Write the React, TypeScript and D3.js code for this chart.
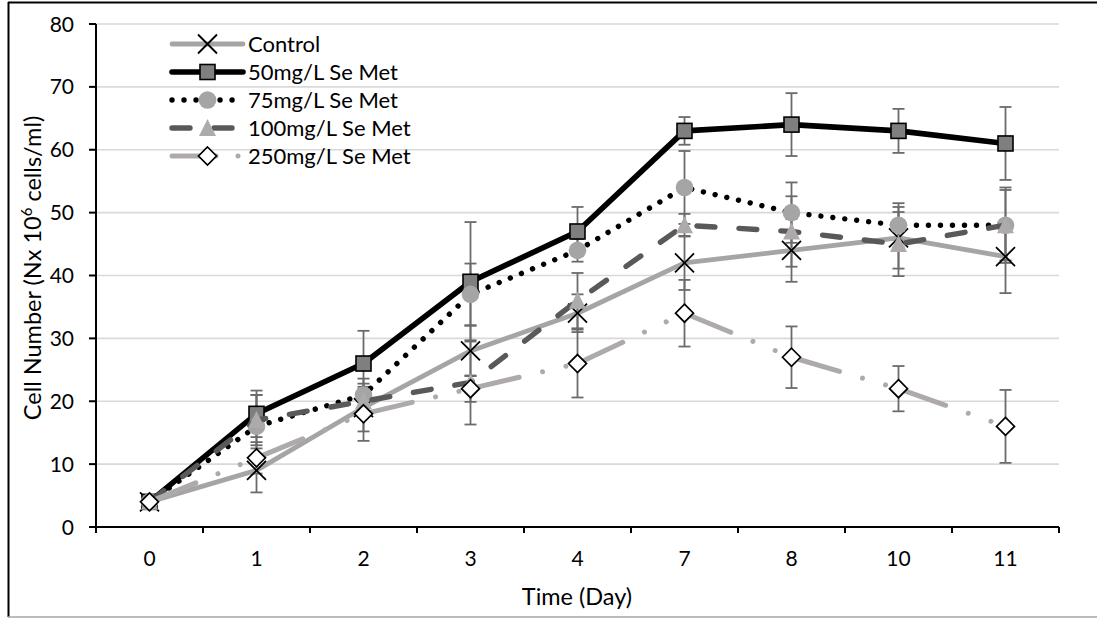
import React from "react";
import * as d3 from "d3";

const days = ["0", "1", "2", "3", "4", "7", "8", "10", "11"];
const yTicks = [0, 10, 20, 30, 40, 50, 60, 70, 80];

const seriesNames = ["Control", "50mg/L Se Met", "75mg/L Se Met", "100mg/L Se Met", "250mg/L Se Met"];

const controlVals = [4, 9, 19, 28, 34, 42, 44, 46, 43];
const controlErr = [0.5, 3.5, 3.8, 4, 3, 4.3, 5, 4.9, 5.8];
const se50Vals = [4, 18, 26, 39, 47, 63, 64, 63, 61];
const se50Err = [0.5, 3.7, 5.2, 9.5, 3.9, 2.2, 5, 3.5, 5.8];
const se75Vals = [4, 16, 21, 37, 44, 54, 50, 48, 48];
const se75Err = [0.5, 5, 2.6, 4.9, 1.8, 5.8, 4.8, 3.5, 6];
const se100Vals = [4, 17, 20, 23, 36, 48, 47, 45, 48];
const se100Err = [0.5, 4, 2, 6.7, 4.4, 1.8, 5.6, 5.1, 5.6];
const se250Vals = [4, 11, 18, 22, 26, 34, 27, 22, 16];
const se250Err = [0.5, 2.5, 4.3, 2.1, 5.4, 5.3, 4.9, 3.6, 5.8];

const W = 1097;
const H = 618;
const FONT = "Lato, 'Open Sans', sans-serif";

type Style = {
  name: string;
  values: number[];
  err: number[];
  color: string;
  width: number;
  dash?: string;
  perSegment: boolean;
  marker: "x" | "square" | "circle" | "triangle" | "diamond";
};

const series: Style[] = [
  { name: seriesNames[0], values: controlVals, err: controlErr, color: "#a5a5a5", width: 4.8, perSegment: false, marker: "x" },
  { name: seriesNames[1], values: se50Vals, err: se50Err, color: "#000000", width: 5.6, perSegment: false, marker: "square" },
  { name: seriesNames[2], values: se75Vals, err: se75Err, color: "#000000", width: 5.4, dash: "0.01 12", perSegment: false, marker: "circle" },
  { name: seriesNames[3], values: se100Vals, err: se100Err, color: "#595959", width: 5.4, dash: "18 24", perSegment: false, marker: "triangle" },
  { name: seriesNames[4], values: se250Vals, err: se250Err, color: "#aeaaaa", width: 5, dash: "50 24 0.01 24 0.01 24", perSegment: true, marker: "diamond" },
];

function Marker({ type, cx, cy }: { type: Style["marker"]; cx: number; cy: number }) {
  if (type === "x") {
    const a = 9.5;
    return (
      <path
        d={`M${cx - a},${cy - a}L${cx + a},${cy + a}M${cx - a},${cy + a}L${cx + a},${cy - a}`}
        stroke="#000"
        strokeWidth={1.8}
        fill="none"
      />
    );
  }
  if (type === "square") {
    const s = 15;
    return <rect x={cx - s / 2} y={cy - s / 2} width={s} height={s} fill="#7f7f7f" stroke="#000" strokeWidth={1.6} />;
  }
  if (type === "circle") {
    return <circle cx={cx} cy={cy} r={8.8} fill="#a5a5a5" />;
  }
  if (type === "triangle") {
    const w = 17;
    const h = 16;
    return (
      <path
        d={`M${cx},${cy - h / 2 - 1}L${cx + w / 2},${cy + h / 2}L${cx - w / 2},${cy + h / 2}Z`}
        fill="#aeaaaa"
      />
    );
  }
  const r = 9;
  return (
    <path
      d={`M${cx},${cy - r}L${cx + r},${cy}L${cx},${cy + r}L${cx - r},${cy}Z`}
      fill="#fff"
      stroke="#000"
      strokeWidth={1.7}
    />
  );
}

export default function App() {
  const x = d3.scaleBand<string>().domain(days).range([96, 1059]).paddingInner(0).paddingOuter(0);
  const y = d3.scaleLinear().domain([0, 80]).range([527, 24]);
  const cx = (d: string) => (x(d) as number) + x.bandwidth() / 2;
  const line = d3
    .line<number>()
    .x((_, i) => cx(days[i]))
    .y((v) => y(v));
  const segLine = d3
    .line<[string, number]>()
    .x((p) => cx(p[0]))
    .y((p) => y(p[1]));

  const left = x.range()[0];
  const right = x.range()[1];
  const boundaries = d3.range(days.length + 1).map((i) => left + i * x.bandwidth());

  const legendX0 = 172;
  const legendX1 = 243;
  const legendY0 = 44;
  const legendDy = 28;

  return (
    <svg
      width={W}
      height={H}
      viewBox={`0 0 ${W} ${H}`}
      style={{ position: "absolute", left: 0, top: 0, background: "#fff" }}
      fontFamily={FONT}
    >
      <rect x={0} y={0} width={W} height={H} fill="#fff" />
      {/* outer frame */}
      <line x1={8.5} y1={2} x2={8.5} y2={617} stroke="#000" strokeWidth={2} />
      <line x1={8} y1={2.5} x2={W} y2={2.5} stroke="#000" strokeWidth={2} />
      <line x1={8} y1={617} x2={W} y2={617} stroke="#a6a6a6" strokeWidth={1.5} />

      {/* gridlines */}
      {yTicks.slice(1).map((t) => (
        <line key={t} x1={left} x2={right} y1={y(t)} y2={y(t)} stroke="#d9d9d9" strokeWidth={1.6} />
      ))}

      {/* axes */}
      <line x1={left} x2={left} y1={y(80)} y2={y(0) + 6} stroke="#000" strokeWidth={2} />
      <line x1={left - 7} x2={right} y1={y(0)} y2={y(0)} stroke="#000" strokeWidth={2} />
      {yTicks.map((t) => (
        <line key={t} x1={left - 7} x2={left} y1={y(t)} y2={y(t)} stroke="#000" strokeWidth={2} />
      ))}
      {boundaries.map((b, i) => (
        <line key={i} x1={b} x2={b} y1={y(0)} y2={y(0) + 6} stroke="#000" strokeWidth={2} />
      ))}
      {yTicks.map((t) => (
        <text key={t} x={74} y={y(t) + 7.5} textAnchor="end" fontSize={21} fill="#000">
          {t}
        </text>
      ))}
      {days.map((d) => (
        <text key={d} x={cx(d)} y={566} textAnchor="middle" fontSize={21} fill="#000">
          {d}
        </text>
      ))}
      <text x={577} y={605} textAnchor="middle" fontSize={23.5} fill="#000">
        Time (Day)
      </text>
      <text transform="translate(41,268) rotate(-90)" textAnchor="middle" fontSize={23.5} fill="#000">
        Cell Number (Nx 10
        <tspan fontSize={15} dy={-9}>
          6
        </tspan>
        <tspan dy={9}> cells/ml)</tspan>
      </text>

      {/* error bars */}
      {series.map((s) =>
        s.values.map((v, i) => {
          const px = cx(days[i]);
          const y1 = y(v + s.err[i]);
          const y2 = y(v - s.err[i]);
          return (
            <g key={s.name + i} stroke="#6b6b6b" strokeWidth={1.8}>
              <line x1={px} x2={px} y1={y1} y2={y2} />
              <line x1={px - 6} x2={px + 6} y1={y1} y2={y1} />
              <line x1={px - 6} x2={px + 6} y1={y2} y2={y2} />
            </g>
          );
        })
      )}

      {/* series lines and markers */}
      {series.map((s) => (
        <g key={s.name}>
          {s.perSegment ? (
            s.values.slice(1).map((v, i) => (
              <path
                key={i}
                d={segLine([
                  [days[i], s.values[i]],
                  [days[i + 1], v],
                ]) as string}
                fill="none"
                stroke={s.color}
                strokeWidth={s.width}
                strokeDasharray={s.dash}
                strokeLinecap="round"
                strokeLinejoin="round"
              />
            ))
          ) : (
            <path
              d={line(s.values) as string}
              fill="none"
              stroke={s.color}
              strokeWidth={s.width}
              strokeDasharray={s.dash}
              strokeLinecap="round"
              strokeLinejoin="round"
            />
          )}
          {s.values.map((v, i) => (
            <Marker key={i} type={s.marker} cx={cx(days[i])} cy={y(v)} />
          ))}
        </g>
      ))}

      {/* legend */}
      {series.map((s, k) => {
        const ly = legendY0 + k * legendDy;
        return (
          <g key={s.name}>
            <line
              x1={legendX0}
              x2={legendX1}
              y1={ly}
              y2={ly}
              stroke={s.color}
              strokeWidth={s.width}
              strokeDasharray={s.marker === "diamond" ? "44 22 0.01 30" : s.dash}
              strokeLinecap="round"
            />
            <Marker type={s.marker} cx={(legendX0 + legendX1) / 2} cy={ly} />
            <text x={248} y={ly + 8} fontSize={22} fill="#000">
              {s.name}
            </text>
          </g>
        );
      })}
    </svg>
  );
}
